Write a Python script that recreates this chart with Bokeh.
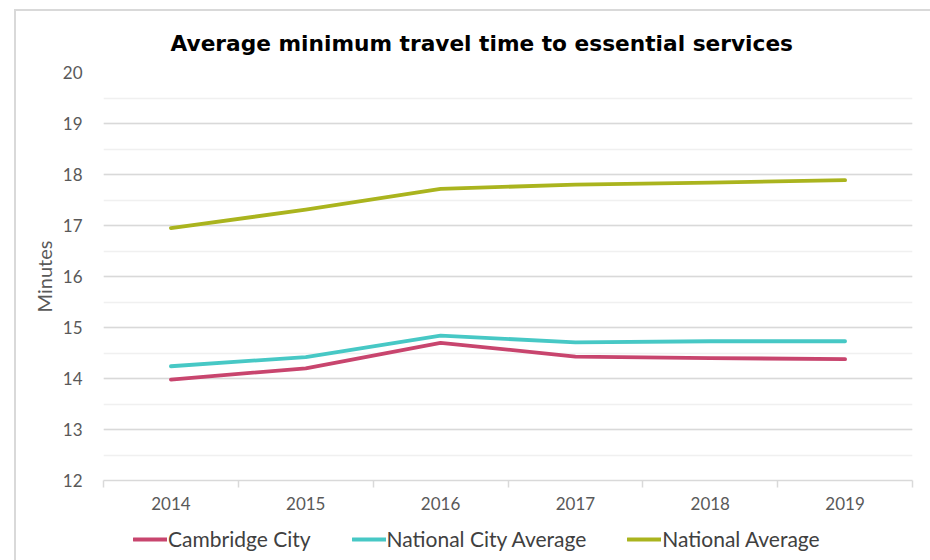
from bokeh.plotting import figure
from bokeh.layouts import column
from bokeh.models import (FixedTicker, SingleIntervalTicker, Legend, LegendItem,
                          Range1d, Title)
from bokeh.embed import file_html
from bokeh.resources import INLINE

years = ["2014", "2015", "2016", "2017", "2018", "2019"]
cambridge_city = [13.98, 14.20, 14.70, 14.43, 14.40, 14.38]
national_city_avg = [14.24, 14.42, 14.84, 14.71, 14.73, 14.73]
national_avg = [16.95, 17.31, 17.72, 17.80, 17.84, 17.89]

series_names = ["Cambridge City", "National City Average", "National Average"]
series_values = [cambridge_city, national_city_avg, national_avg]
series_colors = ["#c8456e", "#47c8c5", "#aab41e"]

FONT = "Lato"
LINE_W = 3.8

xs = [i + 0.5 for i in range(len(years))]

p = figure(width=914, height=509, output_backend="svg", toolbar_location=None,
           x_range=Range1d(0, len(years)), y_range=Range1d(12, 20),
           min_border_left=87, min_border_right=18, min_border_top=59,
           min_border_bottom=40)

p.title = Title(text="Average minimum travel time to essential services",
                align="left", offset=67, text_font="DejaVu Sans",
                text_font_size="21.7px", text_font_style="bold",
                text_color="#000000", standoff=34)

for name, vals, col in zip(series_names, series_values, series_colors):
    p.line(xs, vals, line_color=col, line_width=LINE_W, line_cap="round",
           line_join="round")

p.outline_line_color = None
p.background_fill_color = "white"
p.border_fill_color = "white"

# x axis
p.xaxis.ticker = FixedTicker(ticks=xs, minor_ticks=list(range(len(years) + 1)))
p.xaxis.major_label_overrides = {x: y for x, y in zip(xs, years)}
p.xaxis.major_tick_line_color = None
p.xaxis.major_tick_out = 0
p.xaxis.minor_tick_line_color = "#d9d9d9"
p.xaxis.minor_tick_out = 7
p.xaxis.minor_tick_in = 0
p.xaxis.minor_tick_line_width = 1.5
p.xaxis.axis_line_color = "#d9d9d9"
p.xaxis.axis_line_width = 1.5
p.xaxis.major_label_text_font = FONT
p.xaxis.major_label_text_font_size = "17px"
p.xaxis.major_label_text_color = "#595959"
p.xaxis.major_label_standoff = 9
p.xgrid.grid_line_color = None

# y axis
p.yaxis.ticker = SingleIntervalTicker(interval=1, num_minor_ticks=2)
p.yaxis.axis_line_color = None
p.yaxis.major_tick_line_color = None
p.yaxis.minor_tick_line_color = None
p.yaxis.major_label_text_font = FONT
p.yaxis.major_label_text_font_size = "17px"
p.yaxis.major_label_text_color = "#595959"
p.yaxis.major_label_standoff = 15
p.yaxis.axis_label = "Minutes"
p.yaxis.axis_label_text_font = FONT
p.yaxis.axis_label_text_font_size = "20px"
p.yaxis.axis_label_text_font_style = "normal"
p.yaxis.axis_label_text_color = "#595959"
p.yaxis.axis_label_standoff = 4
p.ygrid.grid_line_color = "#d9d9d9"
p.ygrid.grid_line_width = 1.5
p.ygrid.minor_grid_line_color = "#f0f0f0"
p.ygrid.minor_grid_line_width = 1.5

# legend strip (separate small figure below the chart; series drawn out of view)
lg = figure(width=914, height=40, output_backend="svg", toolbar_location=None,
            x_range=Range1d(0, len(years)), y_range=Range1d(0, 1),
            x_axis_location=None, y_axis_location=None, min_border=0)
lg.grid.visible = False
lg.outline_line_color = None
lg.border_fill_color = "white"
lg.background_fill_color = "white"
legend_renderers = []
for name, vals, col in zip(series_names, series_values, series_colors):
    legend_renderers.append(lg.line(xs, vals, line_color=col, line_width=LINE_W,
                                    line_cap="round"))
legend = Legend(items=[LegendItem(label=n, renderers=[r]) for n, r in zip(series_names, legend_renderers)],
                orientation="horizontal", location=(30, 9),
                label_text_font=FONT, label_text_font_size="21px",
                label_text_color="#404040", glyph_width=34, label_standoff=1,
                spacing=41, padding=0, margin=0, border_line_color=None,
                background_fill_alpha=0)
lg.add_layout(legend, "center")

layout = column(p, lg, spacing=0,
                styles={"margin-left": "14px", "margin-top": "9px",
                        "border-left": "2px solid #d9d9d9",
                        "border-top": "2px solid #d9d9d9"})

open("out.html", "w").write(file_html(layout, INLINE))
